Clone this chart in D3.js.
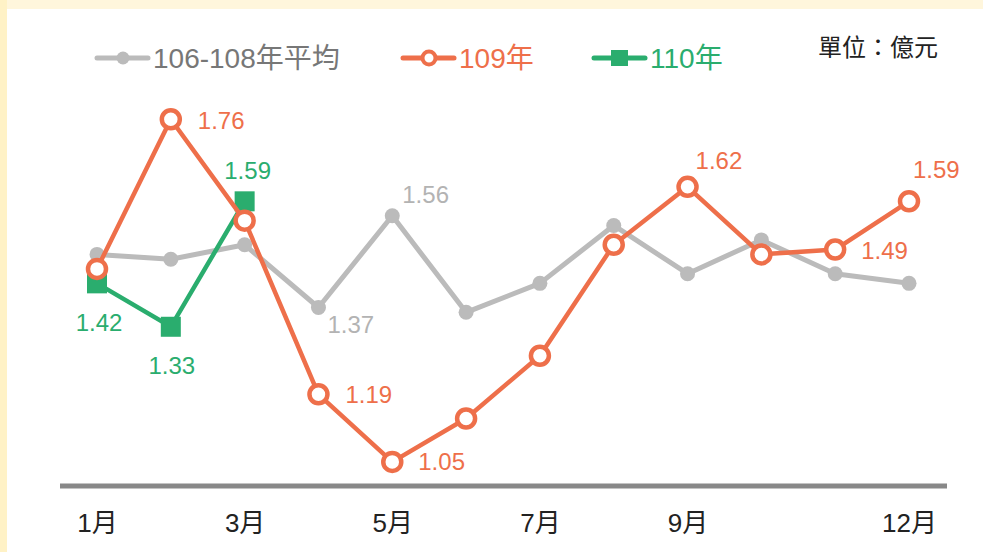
<!DOCTYPE html>
<html lang="zh-Hant">
<head>
    <meta charset="UTF-8">
    <title>Monthly amounts</title>
    <script src="https://d3js.org/d3.v7.min.js"></script>
    <style>
        html, body { margin: 0; padding: 0; background: #fff6dc; }
        svg { display: block; }
        text { font-family: "Liberation Sans", Arial, "Noto Sans CJK TC", sans-serif; }
    </style>
</head>
<body>
    <svg id="chart"></svg>
    <script>
        const width = 983;
        const height = 552;

        const months = [1, 2, 3, 4, 5, 6, 7, 8, 9, 10, 11, 12];
        const tickMonths = [1, 3, 5, 7, 9, 12];
        const avgValues = [1.48, 1.47, 1.50, 1.37, 1.56, 1.36, 1.42, 1.54, 1.44, 1.51, 1.44, 1.42];
        const y109Values = [1.45, 1.76, 1.55, 1.19, 1.05, 1.14, 1.27, 1.50, 1.62, 1.48, 1.49, 1.59];
        const y110Values = [1.42, 1.33, 1.59];
        const seriesNames = ['106-108年平均', '109年', '110年'];

        // which points get a value label, and where it sits
        const avgLabels = [{ i: 3, dx: 9, dy: 17, anchor: 'start' }, { i: 4, dx: 10, dy: -21, anchor: 'start' }];
        const y109Labels = [
            { i: 1, dx: 27, dy: 1, anchor: 'start' },
            { i: 3, dx: 27, dy: 0, anchor: 'start' },
            { i: 4, dx: 26, dy: 0, anchor: 'start' },
            { i: 8, dx: 8, dy: -26, anchor: 'start' },
            { i: 10, dx: 26, dy: 1, anchor: 'start' },
            { i: 11, dx: 4, dy: -32, anchor: 'start' }
        ];
        const y110Labels = [
            { i: 0, dx: 2, dy: 39, anchor: 'middle' },
            { i: 1, dx: 1, dy: 39, anchor: 'middle' },
            { i: 2, dx: 3, dy: -31, anchor: 'middle' }
        ];

        const gray = '#bbbbbb';
        const orange = '#ee6f4a';
        const green = '#2aad6e';

        const svg = d3.select('#chart')
            .attr('width', width)
            .attr('height', height);

        // panel
        svg.append('rect').attr('x', 0).attr('y', 0).attr('width', 7).attr('height', height).attr('fill', '#fff2c6');
        svg.append('rect').attr('x', 7).attr('y', 9).attr('width', width - 7).attr('height', height - 9).attr('fill', '#fff');

        const x = d3.scaleLinear().domain([1, 12]).range([97, 909]);
        const y = d3.scaleLinear().domain([1.0, 1.8]).range([486, 100]);

        // x axis
        const xAxis = d3.axisBottom(x)
            .tickValues(tickMonths)
            .tickSize(0)
            .tickPadding(28)
            .tickFormat(d => d + '月');

        const axisG = svg.append('g')
            .attr('transform', `translate(0,${y(1.0)})`)
            .call(xAxis);
        axisG.select('.domain').remove();
        axisG.selectAll('text')
            .attr('font-size', 26)
            .attr('fill', '#222')
            .attr('font-family', '"Liberation Sans", Arial, "Noto Sans CJK TC", sans-serif');

        svg.append('line')
            .attr('x1', 60).attr('x2', 947)
            .attr('y1', y(1.0)).attr('y2', y(1.0))
            .attr('stroke', '#888').attr('stroke-width', 5);

        const line = d3.line()
            .x((d, i) => x(months[i]))
            .y(d => y(d));

        // 106-108 average
        svg.append('path')
            .datum(avgValues)
            .attr('d', line)
            .attr('fill', 'none')
            .attr('stroke', gray)
            .attr('stroke-width', 5)
            .attr('stroke-linejoin', 'round');
        svg.selectAll('.avg-dot')
            .data(avgValues)
            .enter().append('circle')
            .attr('class', 'avg-dot')
            .attr('cx', (d, i) => x(months[i]))
            .attr('cy', d => y(d))
            .attr('r', 7.5)
            .attr('fill', gray);

        // 110
        svg.append('path')
            .datum(y110Values)
            .attr('d', line)
            .attr('fill', 'none')
            .attr('stroke', green)
            .attr('stroke-width', 4.5);
        svg.selectAll('.sq')
            .data(y110Values)
            .enter().append('rect')
            .attr('class', 'sq')
            .attr('x', (d, i) => x(months[i]) - 10)
            .attr('y', d => y(d) - 10)
            .attr('width', 20)
            .attr('height', 20)
            .attr('fill', green);

        // 109
        svg.append('path')
            .datum(y109Values)
            .attr('d', line)
            .attr('fill', 'none')
            .attr('stroke', orange)
            .attr('stroke-width', 4.5)
            .attr('stroke-linejoin', 'round');
        svg.selectAll('.ring')
            .data(y109Values)
            .enter().append('circle')
            .attr('class', 'ring')
            .attr('cx', (d, i) => x(months[i]))
            .attr('cy', d => y(d))
            .attr('r', 9)
            .attr('fill', '#fff')
            .attr('stroke', orange)
            .attr('stroke-width', 4.5);

        // value labels
        function addLabels(values, spots, color) {
            svg.append('g').selectAll('text')
                .data(spots)
                .enter().append('text')
                .attr('x', d => x(months[d.i]) + d.dx)
                .attr('y', d => y(values[d.i]) + d.dy)
                .attr('dy', '0.35em')
                .attr('text-anchor', d => d.anchor)
                .attr('font-size', 24)
                .attr('fill', color)
                .text(d => values[d.i].toFixed(2));
        }
        addLabels(avgValues, avgLabels, '#b3b3b3');
        addLabels(y109Values, y109Labels, orange);
        addLabels(y110Values, y110Labels, green);

        // legend
        const legendY = 58;
        const legend = [
            { name: seriesNames[0], x0: 97, color: gray, text: '#777', mark: 'dot' },
            { name: seriesNames[1], x0: 403, color: orange, text: orange, mark: 'ring' },
            { name: seriesNames[2], x0: 594, color: green, text: green, mark: 'square' }
        ];
        const lg = svg.append('g').selectAll('g')
            .data(legend)
            .enter().append('g')
            .attr('transform', d => `translate(${d.x0},${legendY})`);
        lg.append('line')
            .attr('x1', 0).attr('x2', 51)
            .attr('y1', 0).attr('y2', 0)
            .attr('stroke', d => d.color)
            .attr('stroke-width', 5)
            .attr('stroke-linecap', 'round');
        lg.filter(d => d.mark === 'dot').append('circle')
            .attr('cx', 26).attr('r', 6.5).attr('fill', d => d.color);
        lg.filter(d => d.mark === 'ring').append('circle')
            .attr('cx', 26).attr('r', 6.5).attr('fill', '#fff')
            .attr('stroke', d => d.color).attr('stroke-width', 4);
        lg.filter(d => d.mark === 'square').append('rect')
            .attr('x', 17).attr('y', -8).attr('width', 17).attr('height', 16)
            .attr('fill', d => d.color);
        lg.append('text')
            .attr('x', 56)
            .attr('dy', '0.35em')
            .attr('font-size', 28)
            .attr('fill', d => d.text)
            .text(d => d.name);

        svg.append('text')
            .attr('x', 818)
            .attr('y', 48)
            .attr('dy', '0.35em')
            .attr('font-size', 24)
            .attr('fill', '#222')
            .text('單位：億元');
    </script>
</body>
</html>
